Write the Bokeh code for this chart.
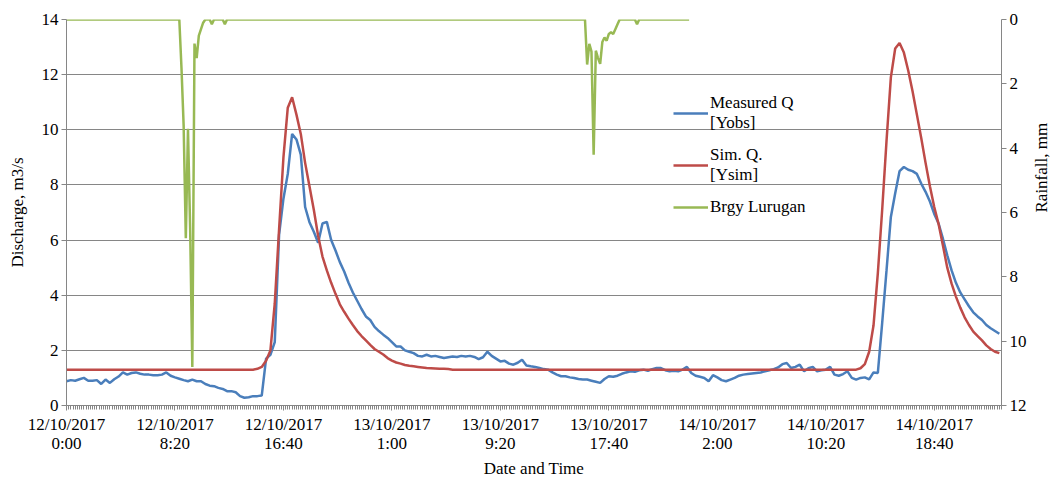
import math
from bokeh.plotting import figure
from bokeh.models import Range1d, LinearAxis, FixedTicker, Legend, LegendItem
from bokeh.embed import file_html
from bokeh.resources import INLINE

# ---------------- data ----------------
# discharge series sampled every 20 minutes from 12/10/2017 0:00
q_minutes = list(range(0, 4320, 20))
measured_q = [
    0.88, 0.92, 0.90, 0.95, 1.00, 0.90, 0.90, 0.92, 0.78, 0.94,
    0.82, 0.95, 1.05, 1.20, 1.12, 1.18, 1.20, 1.15, 1.12, 1.12,
    1.10, 1.10, 1.12, 1.20, 1.08, 1.02, 0.97, 0.92, 0.88, 0.94,
    0.88, 0.88, 0.78, 0.72, 0.70, 0.64, 0.60, 0.52, 0.52, 0.48,
    0.34, 0.28, 0.30, 0.34, 0.34, 0.36, 1.70, 1.84, 2.30, 6.20,
    7.50, 8.40, 9.85, 9.65, 9.10, 7.20, 6.65, 6.30, 5.90, 6.60,
    6.66, 6.00, 5.62, 5.20, 4.86, 4.45, 4.10, 3.80, 3.50, 3.23,
    3.10, 2.85, 2.70, 2.57, 2.45, 2.30, 2.14, 2.14, 2.00, 1.95,
    1.90, 1.80, 1.78, 1.84, 1.78, 1.80, 1.76, 1.72, 1.75, 1.78,
    1.76, 1.80, 1.78, 1.80, 1.76, 1.68, 1.75, 1.95, 1.80, 1.70,
    1.60, 1.62, 1.52, 1.48, 1.55, 1.66, 1.45, 1.42, 1.40, 1.36,
    1.32, 1.30, 1.20, 1.12, 1.06, 1.06, 1.02, 1.00, 0.96, 0.94,
    0.94, 0.90, 0.86, 0.82, 0.96, 1.06, 1.04, 1.08, 1.15, 1.20,
    1.24, 1.22, 1.28, 1.30, 1.26, 1.32, 1.36, 1.36, 1.28, 1.24,
    1.26, 1.24, 1.30, 1.40, 1.18, 1.08, 1.04, 1.00, 0.88, 1.10,
    1.02, 0.92, 0.88, 0.94, 1.00, 1.08, 1.12, 1.14, 1.16, 1.18,
    1.20, 1.24, 1.28, 1.32, 1.38, 1.50, 1.54, 1.36, 1.40, 1.48,
    1.24, 1.35, 1.40, 1.24, 1.28, 1.30, 1.40, 1.12, 1.08, 1.14,
    1.24, 1.00, 0.94, 1.00, 1.02, 0.95, 1.20, 1.18, 3.00, 4.90,
    6.84, 7.70, 8.50, 8.65, 8.55, 8.50, 8.40, 8.05, 7.75, 7.40,
    6.95, 6.60, 6.05, 5.45, 4.90, 4.45, 4.10, 3.85, 3.60, 3.38,
    3.23, 3.10, 2.92, 2.80, 2.70, 2.60,
]
sim_q = (
    [1.30] * 44
    + [1.33, 1.40, 1.62, 2.00, 3.70, 6.40,
       9.00, 10.80, 11.18, 10.55, 9.85, 8.80, 7.95, 7.10, 6.15, 5.40,
       4.90, 4.45, 4.05, 3.67, 3.40, 3.15, 2.92, 2.70, 2.52, 2.36,
       2.20, 2.05, 1.95, 1.85, 1.72, 1.63, 1.56, 1.52, 1.47, 1.44,
       1.42, 1.40, 1.38, 1.36, 1.35, 1.34, 1.33, 1.33, 1.32]
    + [1.30] * 94
    + [1.35, 1.50, 1.95, 2.90, 4.80, 7.10, 9.60,
       11.90, 12.95, 13.15, 12.80, 12.15, 11.40, 10.55, 9.70, 8.80, 7.95,
       7.20, 6.58, 5.80, 5.00, 4.42, 3.95, 3.55, 3.20, 2.92, 2.68,
       2.52, 2.36, 2.18, 2.05, 1.95, 1.90]
)

# rainfall (mm) at Brgy Lurugan, minutes from 12/10/2017 0:00
rain_minutes = [0, 520, 530, 540, 550, 560, 570, 580, 590, 600,
                610, 620, 630, 640, 660, 670, 680, 720, 730, 740,
                2390, 2400, 2410, 2420, 2430, 2440, 2450, 2460, 2470, 2480,
                2490, 2500, 2510, 2520, 2530, 2540, 2550, 2620, 2630, 2640,
                2870]
rain_mm = [0, 0, 1.5, 3.3, 6.8, 3.4, 6.5, 10.8, 0.75, 1.2,
           0.5, 0.3, 0.1, 0, 0, 0.15, 0, 0, 0.15, 0,
           0, 1.4, 0.76, 1.0, 4.2, 0.97, 1.2, 1.38, 0.7, 0.56,
           0.66, 0.45, 0.4, 0.45, 0.3, 0.15, 0, 0, 0.15, 0,
           0]

tick_minutes = [0, 500, 1000, 1500, 2000, 2500, 3000, 3500, 4000]
tick_labels = ["12/10/2017\n0:00", "12/10/2017\n8:20", "12/10/2017\n16:40",
               "13/10/2017\n1:00", "13/10/2017\n9:20", "13/10/2017\n17:40",
               "14/10/2017\n2:00", "14/10/2017\n10:20", "14/10/2017\n18:40"]
q_ticks = [0, 2, 4, 6, 8, 10, 12, 14]
rain_ticks = [0, 2, 4, 6, 8, 10, 12]

# ---------------- styling ----------------
FONT = "Liberation Serif"
FS = "17px"
GREY = "#868686"
BLUE = "#4a7ebb"
RED = "#be4b48"
GREEN = "#98b954"

p = figure(width=1063, height=481, output_backend="svg", toolbar_location=None,
           x_range=Range1d(0, 4310), y_range=Range1d(0, 14),
           min_border_left=66, min_border_right=62, min_border_top=19,
           min_border_bottom=75)
p.outline_line_color = None
p.background_fill_color = "white"
p.extra_y_ranges = {"rain": Range1d(start=12, end=0)}

rb = p.line(q_minutes, measured_q, line_color=BLUE, line_width=2.5)
rr = p.line(q_minutes, sim_q, line_color=RED, line_width=2.5)
rg = p.line(rain_minutes, rain_mm, line_color=GREEN, line_width=2.5,
            y_range_name="rain")

# axes
xa = p.xaxis[0]
xa.ticker = FixedTicker(ticks=tick_minutes, minor_ticks=list(range(0, 4320, 10)))
xa.major_label_overrides = {t: l for t, l in zip(tick_minutes, tick_labels)}
xa.axis_label = "Date and Time"

ya = p.yaxis[0]
ya.ticker = FixedTicker(ticks=q_ticks)
ya.axis_label = "Discharge, m3/s"

ra = LinearAxis(y_range_name="rain", ticker=FixedTicker(ticks=rain_ticks),
                axis_label="Rainfall, mm")
p.add_layout(ra, "right")

for ax in (xa, ya, ra):
    ax.axis_line_color = GREY
    ax.major_tick_line_color = GREY
    ax.minor_tick_line_color = GREY
    ax.major_tick_in = 0
    ax.major_tick_out = 5
    ax.minor_tick_in = 0
    ax.minor_tick_out = 4
    ax.major_label_text_font = FONT
    ax.major_label_text_font_size = FS
    ax.major_label_text_color = "black"
    ax.axis_label_text_font = FONT
    ax.axis_label_text_font_size = FS
    ax.axis_label_text_font_style = "normal"
    ax.axis_label_text_color = "black"
    ax.major_label_standoff = 3

ya.minor_tick_line_color = None
ra.minor_tick_line_color = None
ya.axis_label_standoff = 12
ra.axis_label_standoff = 12
xa.major_label_standoff = 4
xa.major_label_text_line_height = 1.05
xa.axis_label_standoff = 3
try:
    ra.axis_label_orientation = math.pi / 2
except Exception:
    pass

p.xgrid.grid_line_color = None
p.ygrid.ticker = FixedTicker(ticks=q_ticks)
p.ygrid.grid_line_color = GREY
p.ygrid.grid_line_width = 1

legend = Legend(items=[
    LegendItem(label="Measured Q\n[Yobs]", renderers=[rb]),
    LegendItem(label="Sim. Q.\n[Ysim]", renderers=[rr]),
    LegendItem(label="Brgy Lurugan", renderers=[rg]),
], location=(607, 188))
legend.background_fill_alpha = 0
legend.border_line_color = None
legend.padding = 0
legend.margin = 0
legend.spacing = 12
legend.glyph_width = 35
legend.label_standoff = 2
legend.label_text_font = FONT
legend.label_text_font_size = FS
legend.label_text_line_height = 1.3
legend.label_text_color = "black"
p.add_layout(legend)

open("out.html", "w").write(file_html(p, INLINE))
